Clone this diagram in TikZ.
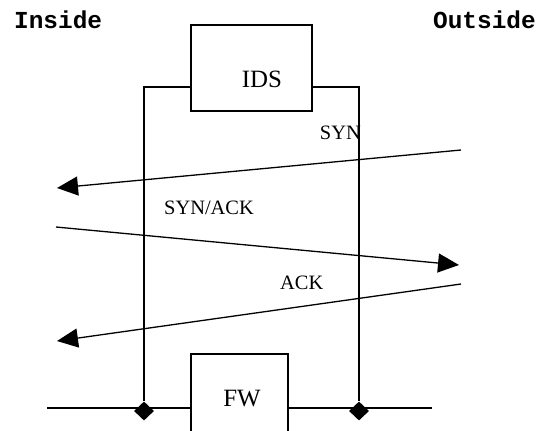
\documentclass[tikz,border=0pt]{standalone}
\usepackage{fontspec}
\setmainfont{Liberation Serif}
\newfontfamily\monofont{Liberation Mono}
\usetikzlibrary{arrows.meta,shapes.geometric}
\tikzset{
  wire/.style={line width=1.3bp, black},
  msg/.style={line width=1.3bp, black, -{Triangle[length=21bp,width=19bp]}},
  boxnode/.style={draw, line width=1.3bp, inner sep=0pt},
  junction/.style={diamond, fill=black, inner sep=0pt, minimum width=20bp, minimum height=19bp},
  sidelabel/.style={font=\monofont\bfseries\fontsize{24.5}{28}\selectfont, inner sep=0pt, anchor=base west},
  boxlabel/.style={font=\fontsize{25}{30}\selectfont, inner sep=0pt, anchor=base},
  msglabel/.style={font=\fontsize{20.5}{24}\selectfont, inner sep=0pt},
}
\begin{document}
\begin{tikzpicture}[x=1bp,y=-1bp]
\useasboundingbox (0,0) rectangle (546,430);
\clip (0,0) rectangle (546,430);
% side labels
\node[sidelabel] (inside) at (14,28) {Inside};
\node[sidelabel] (outside) at (433,28) {Outside};
% IDS box
\node[boxnode, minimum width=121bp, minimum height=86bp] (ids) at (251.5,68) {};
\node[boxlabel] (idstext) at (262,87) {IDS};
% FW box (extends below the picture edge)
\node[boxnode, minimum width=97bp, minimum height=96bp] (fw) at (239.5,402) {};
\node[boxlabel] (fwtext) at (242,406) {FW};
% junctions
\node[junction] (ldia) at (144,411) {};
\node[junction] (rdia) at (359,411) {};
% coordinates
\coordinate (lt) at (144,87);
\coordinate (rt) at (359,87);
\coordinate (hl) at (47,408);
\coordinate (hr) at (432,408);
% IDS taps
\draw[wire] (ids.west |- lt) -- (lt) -- (ldia.north);
\draw[wire] (ids.east |- rt) -- (rt) -- (rdia.north);
% main line through firewall
\draw[wire] (hl) -- (fw.west |- hl);
\draw[wire] (fw.east |- hr) -- (hr);
% messages
\coordinate (s1) at (461,150); \coordinate (e1) at (57,188);
\coordinate (s2) at (56,227);  \coordinate (e2) at (459,265);
\coordinate (s3) at (461,284); \coordinate (e3) at (57,341);
\draw[msg] (s1) -- (e1);
\draw[msg] (s2) -- (e2);
\draw[msg] (s3) -- (e3);
\node[msglabel, anchor=base east] (syn) at (361,139) {SYN};
\node[msglabel, anchor=base west] (synack) at (164,214) {SYN/ACK};
\node[msglabel, anchor=base west] (ack) at (280,289) {ACK};
\end{tikzpicture}
\end{document}
